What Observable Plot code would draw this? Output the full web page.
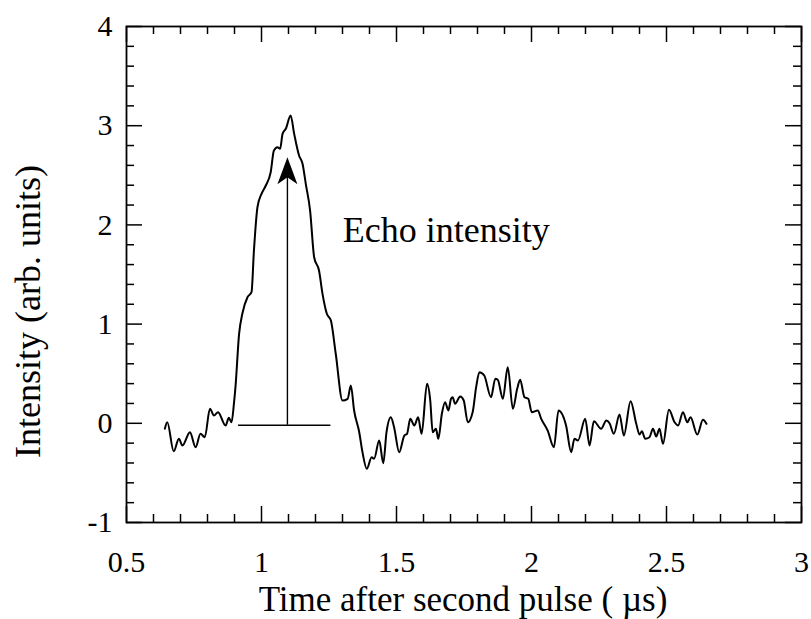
<!DOCTYPE html>
<html>
<head>
<meta charset="utf-8">
<script src="https://cdn.jsdelivr.net/npm/d3@7"></script>
<script src="https://cdn.jsdelivr.net/npm/@observablehq/plot@0.6"></script>
<style>
  html, body { margin: 0; padding: 0; background: #fff; }
  #chart { width: 811px; height: 619px; }
</style>
</head>
<body>
<div id="chart"></div>
<script>
// Echo trace (time in µs, intensity in arb. units)
const time = [0.642,0.651,0.675,0.694,0.707,0.735,0.756,0.774,0.790,0.809,0.824,0.839,0.867,0.879,0.889,0.898,0.904,
  0.917,0.929,0.948,0.963,0.972,0.985,1.000,1.016,1.034,1.046,1.059,1.069,1.078,1.090,1.108,1.121,1.139,1.152,1.164,
  1.180,1.195,1.213,1.226,1.242,1.257,1.275,1.300,1.319,1.331,1.343,1.362,1.374,1.390,1.408,1.417,1.436,1.451,1.463,
  1.479,1.491,1.510,1.529,1.539,1.551,1.566,1.580,1.593,1.613,1.625,1.634,1.646,1.655,1.668,1.680,1.692,1.702,1.708,
  1.717,1.736,1.749,1.764,1.782,1.795,1.807,1.825,1.850,1.866,1.875,1.894,1.912,1.931,1.947,1.958,1.974,1.988,2.001,
  2.023,2.036,2.060,2.083,2.100,2.128,2.147,2.159,2.172,2.199,2.215,2.231,2.258,2.277,2.289,2.305,2.326,2.342,2.367,
  2.388,2.400,2.409,2.421,2.437,2.450,2.462,2.474,2.487,2.509,2.530,2.543,2.561,2.577,2.589,2.614,2.635,2.648];
const intensity = [-0.055,0.011,-0.283,-0.156,-0.224,-0.090,-0.242,-0.106,-0.140,0.146,0.079,0.112,-0.022,0.055,0.011,0.200,0.380,
  0.902,1.104,1.271,1.322,1.742,2.178,2.313,2.397,2.531,2.750,2.783,2.767,2.918,2.969,3.103,2.918,2.700,2.616,2.414,
  2.145,1.674,1.540,1.305,1.104,1.036,0.701,0.230,0.247,0.381,0.129,-0.090,-0.291,-0.459,-0.342,-0.358,-0.173,-0.402,-0.090,
  0.061,-0.039,-0.291,-0.123,-0.106,0.045,-0.022,0.061,-0.106,0.398,0.230,-0.090,-0.055,-0.156,0.096,0.213,0.129,0.247,0.263,
  0.197,0.270,0.230,0.011,0.112,0.364,0.515,0.482,0.263,0.449,0.439,0.247,0.566,0.146,0.348,0.439,0.263,0.247,0.112,
  0.129,0.045,-0.073,-0.241,0.129,-0.022,-0.291,-0.156,-0.173,0.045,-0.224,0.021,-0.055,0.028,0.001,-0.106,0.089,-0.123,0.223,
  -0.005,-0.113,-0.080,-0.156,-0.140,-0.055,-0.133,-0.055,-0.207,0.136,0.011,-0.022,0.112,0.011,0.061,-0.113,0.035,-0.005];

// Axis ticks and labels
const xMajor = [0.5, 1, 1.5, 2, 2.5, 3];
const xLabels = ["0.5", "1", "1.5", "2", "2.5", "3"];
const xMinor = [0.6,0.7,0.8,0.9,1.1,1.2,1.3,1.4,1.6,1.7,1.8,1.9,2.1,2.2,2.3,2.4,2.6,2.7,2.8,2.9];
const yMajor = [-1, 0, 1, 2, 3, 4];
const yLabels = ["-1", "0", "1", "2", "3", "4"];
const yMinor = [-0.8,-0.6,-0.4,-0.2,0.2,0.4,0.6,0.8,1.2,1.4,1.6,1.8,2.2,2.4,2.6,2.8,3.2,3.4,3.6,3.8];

// Annotation: echo-intensity arrow and baseline
const arrowX = [1.096];
const arrowBase = [-0.02];
const arrowTip = [2.682];
const arrowNotch = [2.48];
const baseFrom = [0.915];
const baseTo = [1.257];
const noteText = ["Echo intensity"];
const noteX = [1.301];
const noteY = [1.94];

const xTitle = "Time after second pulse ( \u00B5s)";
const yTitle = "Intensity (arb. units)";

const W = 811, H = 619;
const mL = 126, mR = 10, mT = 26, mB = 97;
const fw = W - mL - mR, fh = H - mT - mB;
const majLen = 16, minLen = 8;

const trace = time.map((t, i) => ({t, v: intensity[i]}));

const arrowHead = {
  draw(context) {
    context.moveTo(0, 0);
    context.lineTo(-10, 27);
    context.lineTo(0, 20);
    context.lineTo(10, 27);
    context.closePath();
  }
};

const tickStyle = {stroke: "black", strokeWidth: 1.5};

const chart = Plot.plot({
  width: W, height: H,
  marginLeft: mL, marginRight: mR, marginTop: mT, marginBottom: mB,
  x: {domain: [0.5, 3], axis: null},
  y: {domain: [-1, 4], axis: null},
  style: {fontFamily: "'Liberation Serif', 'Times New Roman', serif", background: "white", color: "black"},
  marks: [
    // inward ticks on all four sides
    Plot.ruleX(xMajor, {x: d => d, insetTop: fh - majLen, ...tickStyle}),
    Plot.ruleX(xMajor, {x: d => d, insetBottom: fh - majLen, ...tickStyle}),
    Plot.ruleX(xMinor, {x: d => d, insetTop: fh - minLen, ...tickStyle}),
    Plot.ruleX(xMinor, {x: d => d, insetBottom: fh - minLen, ...tickStyle}),
    Plot.ruleY(yMajor, {y: d => d, insetRight: fw - majLen, ...tickStyle}),
    Plot.ruleY(yMajor, {y: d => d, insetLeft: fw - majLen, ...tickStyle}),
    Plot.ruleY(yMinor, {y: d => d, insetRight: fw - minLen, ...tickStyle}),
    Plot.ruleY(yMinor, {y: d => d, insetLeft: fw - minLen, ...tickStyle}),
    Plot.frame({stroke: "black", strokeWidth: 1.8}),
    // tick labels
    Plot.text(xMajor, {x: d => d, frameAnchor: "bottom", dy: 39.5, text: (d, i) => xLabels[i],
      fontSize: 30, textAnchor: "middle", lineAnchor: "middle", fill: "black"}),
    Plot.text(yMajor, {y: d => d, frameAnchor: "left", dx: -14, text: (d, i) => yLabels[i],
      fontSize: 30, textAnchor: "end", lineAnchor: "middle", fill: "black"}),
    // axis titles
    Plot.text([xTitle], {frameAnchor: "bottom", dy: 77.5, dx: -1, text: d => d, fontSize: 35,
      textAnchor: "middle", lineAnchor: "middle", fill: "black"}),
    Plot.text([yTitle], {frameAnchor: "left", dx: -98, dy: 37, rotate: -90, text: d => d, fontSize: 36,
      textAnchor: "middle", lineAnchor: "middle", fill: "black"}),
    // data trace
    Plot.line(trace, {x: "t", y: "v", stroke: "black", strokeWidth: 2, strokeLinejoin: "round", curve: "monotone-x"}),
    // annotation
    Plot.ruleY(arrowBase, {y: d => d, x1: () => baseFrom[0], x2: () => baseTo[0], stroke: "black", strokeWidth: 1.4}),
    Plot.ruleX(arrowX, {x: d => d, y1: (d, i) => arrowBase[i], y2: (d, i) => arrowNotch[i], stroke: "black", strokeWidth: 1.4}),
    Plot.dot(arrowX, {x: d => d, y: (d, i) => arrowTip[i], symbol: arrowHead, fill: "black", stroke: "none"}),
    Plot.text(noteText, {x: (d, i) => noteX[i], y: (d, i) => noteY[i], text: d => d, fontSize: 36,
      textAnchor: "start", lineAnchor: "middle", fill: "black"})
  ]
});

document.getElementById("chart").appendChild(chart);
</script>
</body>
</html>
